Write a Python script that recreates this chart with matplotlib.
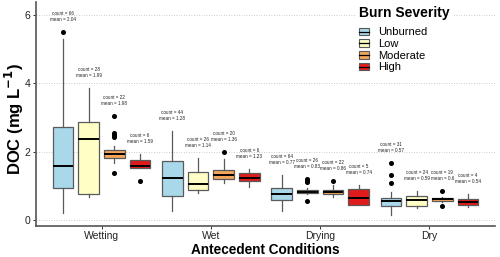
import matplotlib
matplotlib.use("Agg")
import matplotlib.pyplot as plt
from matplotlib.patches import Patch
from matplotlib.lines import Line2D
from matplotlib.legend_handler import HandlerTuple

plt.rcParams['font.family'] = ['Liberation Sans', 'DejaVu Sans']

conditions = ["Wetting", "Wet", "Drying", "Dry"]
severities = ["Unburned", "Low", "Moderate", "High"]
colors = ["#A8D8EA", "#FFFFC5", "#F5A65B", "#E01B1C"]

# per condition, per severity: [whislo, q1, med, q3, whishi]
stats_wetting = [[0.20, 0.94, 1.58, 2.71, 5.30],
                 [0.67, 0.76, 2.37, 2.86, 3.86],
                 [1.67, 1.81, 1.93, 2.05, 2.16],
                 [1.52, 1.52, 1.58, 1.75, 1.93]]
stats_wet = [[0.26, 0.70, 1.23, 1.73, 2.60],
             [0.79, 0.88, 1.05, 1.40, 1.81],
             [1.08, 1.20, 1.32, 1.46, 1.78],
             [0.97, 1.14, 1.23, 1.37, 1.49]]
stats_drying = [[0.26, 0.58, 0.76, 0.94, 1.32],
                [0.76, 0.79, 0.82, 0.88, 0.94],
                [0.67, 0.76, 0.82, 0.88, 1.02],
                [0.44, 0.44, 0.64, 0.91, 1.02]]
stats_dry = [[0.15, 0.41, 0.56, 0.64, 0.82],
             [0.35, 0.41, 0.58, 0.70, 0.85],
             [0.53, 0.56, 0.61, 0.64, 0.67],
             [0.38, 0.44, 0.53, 0.61, 0.76]]

fliers_wetting = [[5.50], [], [3.04, 2.54, 2.49, 2.43, 1.37], [1.14]]
fliers_wet = [[], [], [1.99], []]
fliers_drying = [[], [1.20, 1.16, 1.12, 0.56], [1.14], []]
fliers_dry = [[1.67, 1.32, 1.08], [], [0.85, 0.41], []]

counts_wetting = [66, 28, 22, 6]
counts_wet = [44, 26, 20, 6]
counts_drying = [64, 26, 22, 5]
counts_dry = [31, 24, 19, 4]

means_wetting = ["2.04", "1.99", "1.98", "1.59"]
means_wet = ["1.28", "1.14", "1.36", "1.23"]
means_drying = ["0.77", "0.83", "0.86", "0.74"]
means_dry = ["0.57", "0.59", "0.6", "0.54"]

all_stats = [stats_wetting, stats_wet, stats_drying, stats_dry]
all_fliers = [fliers_wetting, fliers_wet, fliers_drying, fliers_dry]
all_counts = [counts_wetting, counts_wet, counts_drying, counts_dry]
all_means = [means_wetting, means_wet, means_drying, means_dry]

fig = plt.figure(figsize=(5.0, 2.57), dpi=100)
ax = fig.add_axes([0.072, 0.121, 0.918, 0.871])

step = 0.235
bw = 0.19
edge = "#5A5A5A"

for ci, cond in enumerate(conditions):
    for si, sev in enumerate(severities):
        lo, q1, med, q3, hi = all_stats[ci][si]
        fl = all_fliers[ci][si]
        pos = ci + 1 + (si - 1.5) * step
        st = dict(med=med, q1=q1, q3=q3, whislo=lo, whishi=hi, fliers=fl)
        ax.bxp([st], positions=[pos], widths=bw, patch_artist=True,
               showcaps=False,
               boxprops=dict(facecolor=colors[si], edgecolor=edge, linewidth=0.9),
               whiskerprops=dict(color=edge, linewidth=0.9),
               medianprops=dict(color="black", linewidth=1.4),
               flierprops=dict(marker="o", markerfacecolor="black",
                               markeredgecolor="black", markersize=2.6))
        top = max([hi] + fl)
        ax.text(pos, top + 0.28,
                f"count = {all_counts[ci][si]}\nmean = {all_means[ci][si]}",
                ha="center", va="bottom", fontsize=3.3, color="#222222",
                linespacing=1.25)

ax.set_xlim(0.4, 4.6)
ax.set_ylim(-0.175, 6.37)
ax.set_xticks(range(1, 5))
ax.set_xticklabels(conditions, fontsize=7.5, color="#222222")
ax.set_yticks([0, 2, 4, 6])
ax.set_yticklabels(["0", "2", "4", "6"], fontsize=7.5, color="#222222")
ax.tick_params(axis="both", length=2.5, width=0.7, color="#333333", pad=1.5)

ax.yaxis.grid(True, linestyle=(0, (1, 2)), color="#BBBBBB", linewidth=0.6)
ax.set_axisbelow(True)
for s in ["top", "right"]:
    ax.spines[s].set_visible(False)
for s in ["left", "bottom"]:
    ax.spines[s].set_color("#555555")
    ax.spines[s].set_linewidth(1.2)

ax.set_xlabel("Antecedent Conditions", fontsize=9.8, fontweight="bold", labelpad=1)
fig.text(14 / 500, 1 - 119 / 257, r"DOC (mg L$^{\mathbf{-1}}$)", rotation=90,
         ha="center", va="center", fontsize=12, fontweight="bold")

handles = []
for c in colors:
    handles.append((Patch(facecolor=c, edgecolor=edge, linewidth=0.8),
                    Line2D([], [], color="black", linewidth=0.9)))
leg = ax.legend(handles, severities, title="Burn Severity",
                handler_map={tuple: HandlerTuple(ndivide=1, pad=0)},
                loc="upper left", bbox_to_anchor=(0.685, 1.02),
                fontsize=8, title_fontproperties=dict(weight="bold", size=10),
                frameon=True, framealpha=1, edgecolor="white", facecolor="white",
                handlelength=0.9, handleheight=0.7, handletextpad=0.8,
                labelspacing=0.15, borderpad=0.3, alignment="left")
leg._legend_box.sep = 5.0
leg.get_frame().set_linewidth(0)

fig.savefig("out.png", dpi=100)
